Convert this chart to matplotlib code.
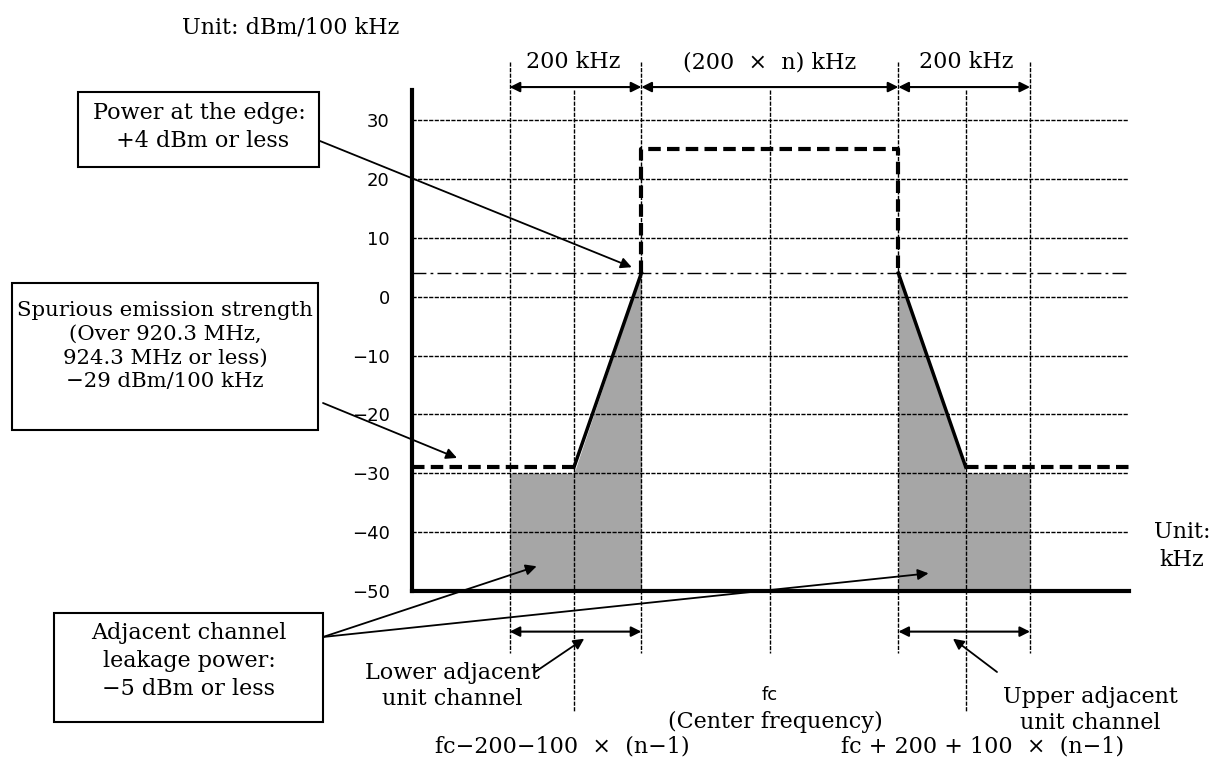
import numpy as np
import matplotlib.pyplot as plt
from matplotlib.patches import Rectangle
from matplotlib.transforms import Affine2D

# ---- values (x in kHz with n = 2, y in dBm/100 kHz)
y_ticks = [30, 20, 10, 0, -10, -20, -30, -40, -50]
x_lim = (-557, 559)
y_lim = (-50, 35.1)

outer_x = [-405, 405]        # outer edges of adjacent channels
inner_x = [-305, 305]        # middle of adjacent channels
edge_x = [-200, 200]         # channel edges
center_x = 0                 # fc

inband_level = 25
edge_level = 4
spurious_level = -29

left_fill_x = [-405, -305, -200]
left_fill_top = [-30, -30, 4]
right_fill_x = [200, 305, 405]
right_fill_top = [4, -30, -30]

spur_left_x = [-557, -305]
spur_right_x = [305, 559]
slope_left_x = [-305, -200]
slope_left_y = [-29, 4]
slope_right_x = [200, 305]
slope_right_y = [4, -29]
inband_x = [-200, -200, 200, 200]
inband_y = [4, 25, 25, 4]

serif = 'DejaVu Serif'
fs = 16

fig = plt.figure(figsize=(12.29, 7.58), dpi=100)
ax = fig.add_axes([412/1229, 1 - 591/758, 717/1229, 501/758])
# pixel transform of the reference picture (origin top left)
px = Affine2D().scale(1/100, -1/100).translate(0, 7.58) + fig.dpi_scale_trans

ax.set_xlim(*x_lim)
ax.set_ylim(*y_lim)
for s in ['top', 'right']:
    ax.spines[s].set_visible(False)
ax.spines['left'].set_linewidth(3)
ax.spines['bottom'].set_linewidth(3)
ax.set_xticks([])
ax.set_yticks(y_ticks)
ax.tick_params(axis='y', length=0, pad=16, labelsize=13)

# horizontal grid
for yv in y_ticks[:-1]:
    ax.axhline(yv, color='k', lw=1, ls=(0, (3, 1)), zorder=1)

# gray leakage areas
ax.fill_between(left_fill_x, left_fill_top, y_lim[0], color='#a6a6a6', lw=0, zorder=0)
ax.fill_between(right_fill_x, right_fill_top, y_lim[0], color='#a6a6a6', lw=0, zorder=0)

# vertical dashed lines (some run outside the axes)
vstyle = dict(color='k', lw=1, ls=(0, (3, 1)), clip_on=False, zorder=2)
for xv in outer_x + edge_x:
    ax.plot([xv, xv], [39.9, -60.6], **vstyle)
for xv in inner_x:
    ax.plot([xv, xv], [y_lim[1], -70.5], **vstyle)
ax.plot([center_x, center_x], [y_lim[1], -60.6], **vstyle)

# edge power line (dash-dot)
ax.axhline(edge_level, color='k', lw=1, ls=(0, (10, 3, 2, 3)), zorder=2)

# mask
thick_dash = dict(color='k', lw=3, ls=(0, (3, 1.5)), zorder=4)
ax.plot(spur_left_x, [spurious_level] * 2, **thick_dash)
ax.plot(spur_right_x, [spurious_level] * 2, **thick_dash)
ax.plot(inband_x, inband_y, **thick_dash)
ax.plot(slope_left_x, slope_left_y, color='k', lw=2.5, zorder=4)
ax.plot(slope_right_x, slope_right_y, color='k', lw=2.5, zorder=4)

# dimension arrows
dim = dict(arrowstyle='<|-|>', color='k', lw=1.5, mutation_scale=15, shrinkA=0, shrinkB=0)
for a, b in [(outer_x[0], edge_x[0]), (edge_x[0], edge_x[1]), (edge_x[1], outer_x[1])]:
    ax.annotate('', xy=(a, 35.6), xytext=(b, 35.6), arrowprops=dim, annotation_clip=False)
for a, b in [(outer_x[0], edge_x[0]), (edge_x[1], outer_x[1])]:
    ax.annotate('', xy=(a, -56.9), xytext=(b, -56.9), arrowprops=dim, annotation_clip=False)

# texts
def txt(x, y, s, **kw):
    kw.setdefault('family', serif)
    kw.setdefault('fontsize', fs)
    fig.text(x, y, s, transform=px, ha='center', va='center', **kw)

txt(291, 27, 'Unit: dBm/100 kHz')
txt(573, 62, '200 kHz')
txt(770, 62, '(200  ×  n) kHz')
txt(966, 62, '200 kHz')
txt(1182, 546, 'Unit:\nkHz', linespacing=1.35)

txt(770, 695, 'fc', family='DejaVu Sans', fontsize=13)
txt(775, 722, '(Center frequency)')
txt(452, 686, 'Lower adjacent\nunit channel', linespacing=1.2)
txt(1090, 710, 'Upper adjacent\nunit channel', linespacing=1.2)
txt(562, 747, 'fc−200−100  ×  (n−1)')
txt(983, 747, 'fc + 200 + 100  ×  (n−1)')

# boxes
boxes = [
    ((78, 92, 241, 75), (199, 127), 'Power at the edge:\n +4 dBm or less', fs),
    ((12, 283, 306, 147), (165, 346), 'Spurious emission strength\n(Over 920.3 MHz,\n924.3 MHz or less)\n−29 dBm/100 kHz', 15.3),
    ((54, 613, 269, 109), (189, 661), 'Adjacent channel\nleakage power:\n−5 dBm or less', fs),
]
for (x0, y0, w, h), (tx, ty), s, size in boxes:
    fig.add_artist(Rectangle((x0, y0), w, h, transform=px, fill=False, lw=1.5, color='k'))
    txt(tx, ty, s, linespacing=1.33, fontsize=size)

# pointer arrows
ptr = dict(arrowstyle='-|>', color='k', lw=1.3, mutation_scale=16, shrinkA=0, shrinkB=0)
pointers = [
    ((320, 141), (-215, 5)),
    ((323, 403), (-487, -27.4)),
    ((323, 637), (-363, -45.8)),
    ((323, 637), (247, -47)),
    ((535, 672), (-289, -58.1)),
    ((997, 672), (285, -58.1)),
]
for start, tip in pointers:
    ax.annotate('', xy=tip, xycoords='data', xytext=start, textcoords=px,
                arrowprops=ptr, annotation_clip=False)

fig.savefig('out.png', dpi=100)
